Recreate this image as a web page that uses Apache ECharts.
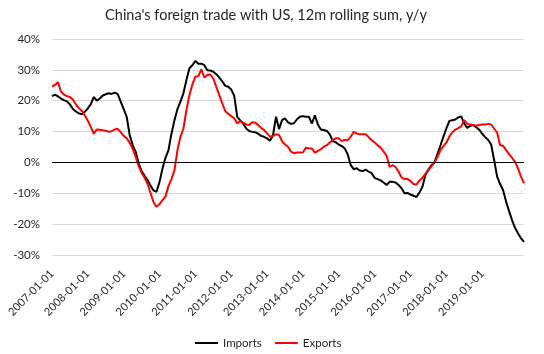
<!DOCTYPE html>
<html>
<head>
<meta charset="utf-8">
<script src="https://cdn.jsdelivr.net/npm/echarts@6/dist/echarts.min.js"></script>
<style>
  html, body { margin: 0; padding: 0; background: #fff; }
  #chart { width: 544px; height: 354px; }
</style>
</head>
<body>
<div id="chart"></div>
<script>
// monthly dates, 2007-01 .. 2020-03
const startYear = 2007;
const monthCount = 159;
const categories = [];
for (let i = 0; i < monthCount; i++) {
  const y = startYear + Math.floor(i / 12);
  const m = (i % 12) + 1;
  categories.push(y + "-" + String(m).padStart(2, "0") + "-01");
}
// last year label shown on the axis
const lastLabelYear = 2019;

// y/y change of 12m rolling sum, %
const imports = [
  21.5, 22.0, 21.4, 20.7, 20.2, 19.8, 18.8, 17.3, 16.5, 15.9, 15.6, 16.4,
  17.5, 18.9, 21.2, 20.0, 20.7, 21.7, 22.1, 22.4, 22.2, 22.6, 22.1, 19.7,
  17.3, 14.8, 8.9, 5.6, 3.5, -0.3, -2.8, -4.3, -5.7, -7.6, -9.1, -9.5,
  -6.3, -1.9, 1.5, 4.0, 9.4, 13.7, 17.3, 19.7, 22.4, 26.7, 30.5, 31.5,
  32.9, 32.0, 32.0, 31.5, 29.9, 29.8, 29.4, 28.6, 27.5, 26.3, 24.8, 24.5,
  23.6, 21.6, 14.8, 13.6, 12.6, 11.0, 10.2, 9.9, 9.8, 9.3, 8.6, 8.3,
  7.8, 7.0, 8.9, 14.8, 10.8, 13.7, 14.3, 13.0, 12.5, 12.7, 14.0, 14.8,
  15.0, 14.8, 14.8, 12.6, 15.3, 12.3, 10.7, 10.5, 10.2, 9.1, 6.9, 6.5,
  5.8, 5.3, 4.5, 2.6, -0.9, -2.2, -1.9, -2.6, -2.8, -2.3, -3.0, -3.5,
  -5.0, -5.4, -5.8, -6.5, -7.3, -6.3, -6.3, -6.5, -7.3, -8.4, -10.0, -9.9,
  -10.4, -10.8, -11.2, -9.8, -7.9, -4.1, -2.3, -0.9, -0.1, 2.6, 5.4, 8.3,
  11.0, 13.4, 13.7, 13.9, 14.6, 14.9, 12.6, 11.2, 11.9, 12.1, 11.4, 10.6,
  9.3, 8.2, 7.3, 5.8, 0.8, -4.6, -7.0, -9.0, -12.7, -15.8, -18.7, -21.2,
  -23.0, -24.6, -25.7
];
const exports = [
  24.7, 25.1, 26.0, 23.0, 22.0, 21.5, 21.2, 20.4, 18.8, 17.6, 16.7, 15.2,
  13.5, 11.5, 9.3, 10.7, 10.6, 10.4, 10.3, 9.9, 10.1, 10.7, 10.9, 9.8,
  8.6, 7.8, 6.4, 4.5, 1.8, -1.2, -3.4, -5.0, -7.0, -10.0, -12.9, -14.4,
  -13.5, -12.2, -11.0, -7.6, -5.4, -2.5, 4.0, 8.3, 11.0, 17.0, 21.8, 25.3,
  27.8, 28.0, 30.2, 27.5, 28.3, 28.5, 27.2, 24.5, 21.8, 19.1, 16.6, 15.8,
  15.0, 14.3, 12.6, 13.4, 12.9, 12.3, 12.1, 13.0, 12.9, 12.1, 11.2, 10.5,
  9.4, 8.3, 8.6, 9.1, 8.9, 6.9, 5.8, 5.1, 3.5, 3.0, 3.2, 3.2,
  3.2, 4.8, 4.5, 4.5, 3.2, 3.7, 4.3, 5.1, 5.6, 6.5, 7.2, 7.8,
  7.8, 6.9, 7.3, 7.2, 8.3, 9.9, 9.4, 9.1, 9.1, 9.1, 8.2, 7.2,
  6.5, 5.6, 4.8, 3.5, 2.2, -1.4, -0.9, -1.5, -3.0, -4.8, -5.4, -5.4,
  -6.0, -7.0, -7.2, -5.9, -5.0, -3.7, -2.5, -1.3, -0.1, 1.7, 4.0, 5.2,
  6.4, 8.3, 9.8, 10.6, 11.1, 11.7, 13.7, 12.5, 12.3, 12.1, 11.9, 12.1,
  12.3, 12.3, 12.5, 12.3, 11.0, 9.7, 5.6, 5.4, 4.0, 2.7, 1.5, 0.2,
  -1.9, -4.6, -6.8
];

const font = "Lato";
const textColor = "#262626";

const chart = echarts.init(document.getElementById("chart"), null, { renderer: "canvas" });

chart.setOption({
  animation: false,
  backgroundColor: "#ffffff",
  title: {
    text: "China's foreign trade with US, 12m rolling sum, y/y",
    left: 261,
    top: 3,
    textAlign: "center",
    textStyle: { fontFamily: font, fontSize: 14.5, fontWeight: "normal", color: textColor },
  },
  legend: {
    data: ["Imports", "Exports"],
    left: 190,
    top: 332,
    icon: "rect",
    itemWidth: 23,
    itemHeight: 2,
    itemGap: 13,
    textStyle: { fontFamily: font, fontSize: 11.5, color: textColor },
  },
  grid: { left: 52, right: 20, top: 39, bottom: 99 },
  xAxis: {
    type: "category",
    data: categories,
    boundaryGap: false,
    axisLine: { show: false },
    axisTick: { show: false },
    axisLabel: {
      interval: (index, value) =>
        index % 12 === 0 && Number(value.slice(0, 4)) <= lastLabelYear,
      rotate: 45,
      margin: 17,
      fontFamily: font,
      fontSize: 11,
      color: textColor,
    },
  },
  yAxis: {
    type: "value",
    min: -30,
    max: 40,
    interval: 10,
    axisLine: { show: false },
    axisTick: { show: false },
    axisLabel: {
      formatter: "{value}%",
      margin: 12,
      fontFamily: font,
      fontSize: 11.5,
      color: textColor,
    },
    splitLine: { lineStyle: { color: "#d9d9d9", width: 1 } },
  },
  series: [
    {
      name: "Imports",
      type: "line",
      data: imports,
      symbol: "none",
      lineStyle: { color: "#000000", width: 2 },
      itemStyle: { color: "#000000" },
      z: 2,
      markLine: {
        silent: true,
        symbol: "none",
        label: { show: false },
        lineStyle: { color: "#000000", width: 1, type: "solid" },
        data: [{ yAxis: 0 }],
      },
    },
    {
      name: "Exports",
      type: "line",
      data: exports,
      symbol: "none",
      lineStyle: { color: "#ff0000", width: 2 },
      itemStyle: { color: "#ff0000" },
      z: 3,
    },
  ],
});
</script>
</body>
</html>
